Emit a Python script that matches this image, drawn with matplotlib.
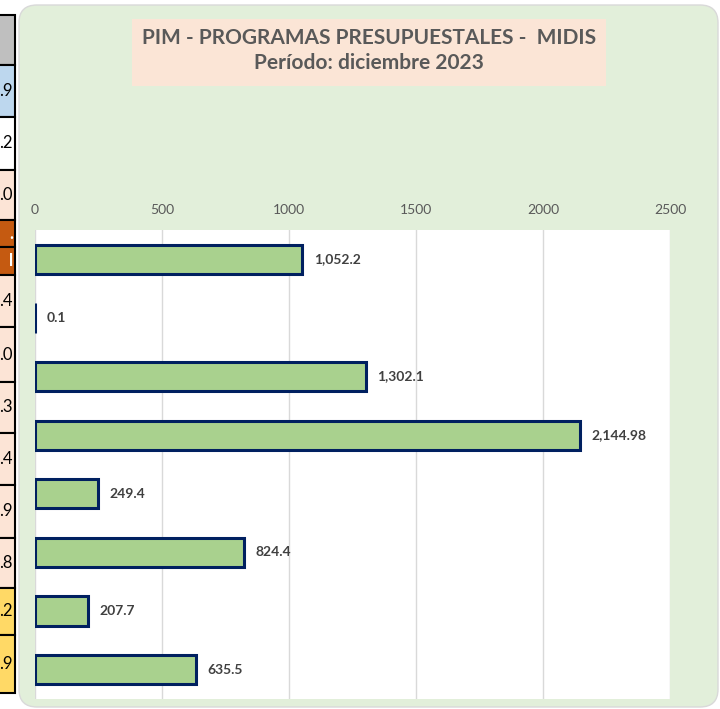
import matplotlib.pyplot as plt
from matplotlib.patches import FancyBboxPatch, Rectangle

plt.rcParams['font.family'] = ['Lato', 'DejaVu Sans']

# chart data
valores = [1052.2, 0.1, 1302.1, 2144.98, 249.4, 824.4, 207.7, 635.5]
etiquetas = ['1,052.2', '0.1', '1,302.1', '2,144.98', '249.4', '824.4', '207.7', '635.5']
ticks = [0, 500, 1000, 1500, 2000, 2500]

# left table strip (cut off in the screenshot)
filas_y = [15, 65, 117, 170, 220, 247, 275, 327, 382, 433, 485, 538, 588, 635, 693]
filas_txt = ['', '.9', '.2', '.0', '.', 'l', '.4', '.0', '.3', '.4', '.9', '.8', '.2', '.9']
filas_col = ['#BFBFBF', '#BDD7EE', '#FFFFFF', '#FCE4D6', '#C55A11', '#C55A11', '#FCE4D6',
             '#FCE4D6', '#FCE4D6', '#FCE4D6', '#FCE4D6', '#FCE4D6', '#FFD966', '#FFD966']

W, H = 720, 709
fig = plt.figure(figsize=(W / 100, H / 100), dpi=100)


def fx(x):
    return x / W


def fy(y):
    return 1 - y / H


# table cells
for i, (txt, col) in enumerate(zip(filas_txt, filas_col)):
    y0, y1 = filas_y[i], filas_y[i + 1]
    fig.add_artist(Rectangle((fx(-5), fy(y1)), fx(20), fy(y0) - fy(y1), transform=fig.transFigure,
                             facecolor=col, edgecolor='black', linewidth=1.5, zorder=-3))
    tc = 'white' if col == '#C55A11' else 'black'
    fig.text(fx(13), fy((y0 + y1) / 2), txt, ha='right', va='center', fontsize=12,
             color=tc, fontweight='bold' if tc == 'white' else 'normal')

# green chart panel
fig.add_artist(FancyBboxPatch((fx(19), fy(707)), fx(699), fy(5) - fy(707),
                              boxstyle='round,pad=0,rounding_size=0.025', transform=fig.transFigure,
                              facecolor='#E2EFDA', edgecolor='#D9D9D9', linewidth=1, zorder=-2))

# title box
fig.add_artist(Rectangle((fx(132), fy(86)), fx(474), fy(19) - fy(86), transform=fig.transFigure,
                         facecolor='#FBE5D6', edgecolor='none', zorder=-1))
fig.text(fx(369), fy(38), 'PIM - PROGRAMAS PRESUPUESTALES -  MIDIS', ha='center', va='center',
         fontsize=15, fontweight='bold', color='#595959')
fig.text(fx(369), fy(63), 'Período: diciembre 2023', ha='center', va='center',
         fontsize=15, fontweight='bold', color='#595959')

ax = fig.add_axes([fx(35), fy(699), fx(635), fy(230) - fy(699)])
ax.set_zorder(2)
ax.set_facecolor('white')
pos = list(range(len(valores)))
ax.barh(pos, valores, height=0.5, color='#A9D18E', edgecolor='#002060', linewidth=2.2, zorder=3)
for p, v, t in zip(pos, valores, etiquetas):
    ax.text(v + 45, p, t, ha='left', va='center', fontsize=10, fontweight='bold', color='#404040')

ax.set_xlim(0, 2500)
ax.set_ylim(len(valores) - 0.5, -0.5)
ax.set_xticks(ticks)
ax.xaxis.tick_top()
ax.tick_params(axis='x', length=0, pad=10, labelsize=10, labelcolor='#595959')
ax.set_yticks([])
ax.grid(axis='x', color='#D9D9D9', linewidth=1, zorder=0)
for s in ax.spines.values():
    s.set_visible(False)

fig.savefig('out.png', dpi=100)
